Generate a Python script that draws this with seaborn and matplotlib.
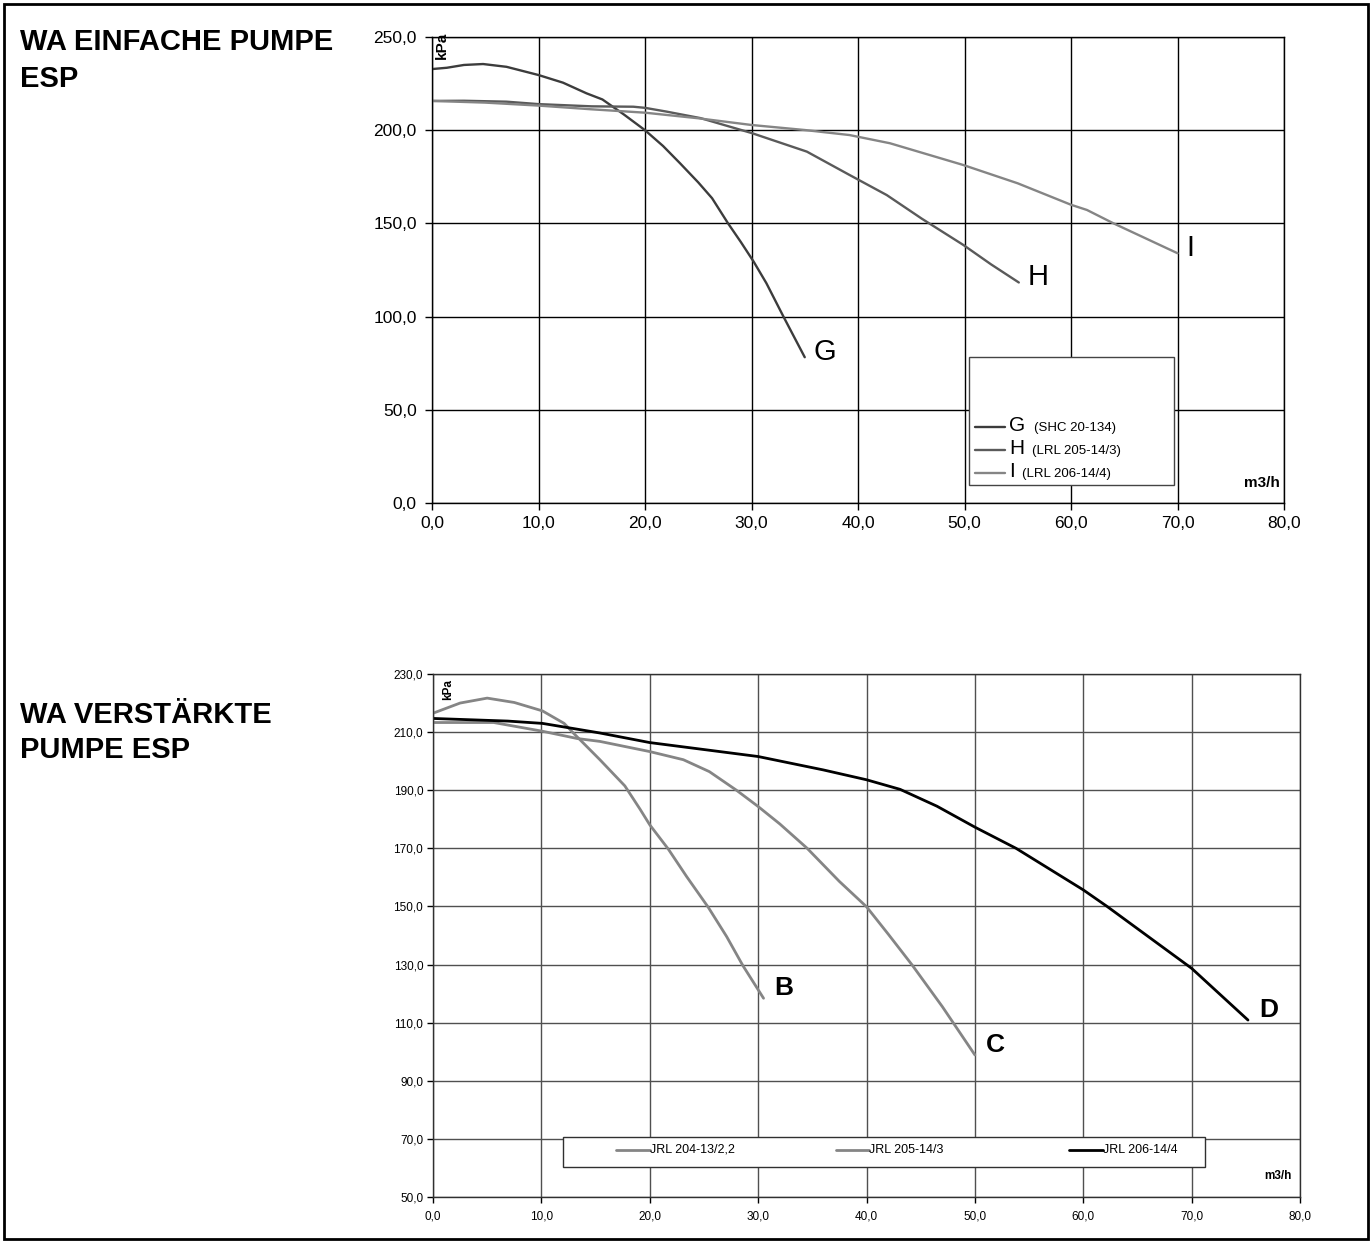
import matplotlib
matplotlib.use("Agg")
import matplotlib.pyplot as plt
from matplotlib.ticker import FuncFormatter, MultipleLocator, FixedLocator
from matplotlib.patches import Rectangle
import seaborn as sns

# ---------------- data: top chart (WA einfache Pumpe ESP) ----------------
g_x = [0, 1.4, 3, 4.8, 7, 10, 12.3, 14.5, 16, 18, 20, 21.7, 23.3, 25, 26.3, 27.8, 29, 30.2, 31.4, 33, 35]
g_y = [232.8, 233.5, 235, 235.5, 234, 229.6, 225.5, 219.8, 216.5, 208.5, 200, 191.5, 182.2, 172, 163.5, 150, 140, 129.5, 117.9, 100, 78.2]
h_x = [0, 3, 7, 10, 15, 18.9, 20, 22, 25.2, 30, 35.2, 39.2, 42.7, 46, 49.9, 52.5, 55.1]
h_y = [215.7, 215.8, 215.3, 214, 212.8, 212.6, 212, 210, 206.5, 198.5, 188.5, 176, 165.2, 152.5, 138.4, 128, 118.3]
i_x = [0, 5, 10, 15, 20, 25, 30, 35, 39.2, 43, 49.9, 55, 60, 61.5, 64, 70]
i_y = [215.7, 214.8, 213.2, 211.2, 209.4, 206.4, 202.8, 200.1, 197.4, 193, 181.3, 171.5, 160, 157.2, 150, 134]
top_names = ["G", "H", "I"]
top_models = ["(SHC 20-134)", "(LRL 205-14/3)", "(LRL 206-14/4)"]

# ---------------- data: bottom chart (WA verstaerkte Pumpe ESP) ----------------
b_x = [0, 2.5, 5, 7.5, 10.1, 12.1, 13, 15.4, 17.7, 19.1, 20, 21.7, 23.4, 25.4, 27.1, 28.6, 30.5]
b_y = [216.5, 220, 221.7, 220.2, 217.3, 213, 209.5, 200.5, 191.5, 183.5, 178.1, 169.8, 160.3, 149.7, 139.6, 129.6, 118.4]
c_x = [0, 5.6, 10.1, 13.3, 15.4, 20, 23.1, 25.5, 28, 30, 32, 34.5, 37.5, 40, 42, 44.2, 47, 50]
c_y = [213.3, 213.3, 210.3, 207.8, 206.8, 203.3, 200.5, 196.4, 190, 184.4, 178.4, 170.1, 158.6, 149.9, 140.5, 129.9, 115.5, 98.9]
d_x = [0, 6.9, 10.1, 13, 15.4, 20, 30, 36, 40, 43.1, 46.5, 50, 53.8, 60, 62.2, 70, 75.2]
d_y = [214.7, 213.8, 213, 211.2, 209.7, 206.4, 201.6, 197, 193.6, 190.3, 184.5, 177.3, 170, 155.7, 150, 128.7, 110.9]
bottom_names = ["B", "C", "D"]
bottom_models = ["JRL 204-13/2,2", "JRL 205-14/3", "JRL 206-14/4"]

sns.set_theme(style="white")
plt.rcParams["font.family"] = ["Liberation Sans", "DejaVu Sans"]
plt.rcParams["text.color"] = "black"

fig = plt.figure(figsize=(13.72, 12.43), dpi=100)

comma = FuncFormatter(lambda v, p: f"{v:.1f}".replace(".", ","))

# ================= top axes =================
ax1 = fig.add_axes([432 / 1372, 1 - 503 / 1243, 852 / 1372, 466 / 1243])
top_colors = ["#3c3c3c", "#5a5a5a", "#858585"]
for xs, ys, col in zip([g_x, h_x, i_x], [g_y, h_y, i_y], top_colors):
    sns.lineplot(x=xs, y=ys, ax=ax1, color=col, lw=1.7, estimator=None, sort=False)
ax1.set_xlim(0, 80)
ax1.set_ylim(0, 250)
ax1.xaxis.set_major_locator(MultipleLocator(10))
ax1.yaxis.set_major_locator(MultipleLocator(50))
ax1.xaxis.set_major_formatter(comma)
ax1.yaxis.set_major_formatter(comma)
ax1.grid(True, color="black", lw=1.0)
ax1.set_axisbelow(True)
for s in ax1.spines.values():
    s.set_color("black")
    s.set_linewidth(1.0)
ax1.tick_params(axis="both", direction="out", length=5, width=1, color="black",
                labelsize=12.5, labelcolor="black", pad=6, left=True, bottom=True)
ax1.tick_params(axis="x", pad=4)
ax1.set_xlabel("")
ax1.set_ylabel("")

for name, xs, ys in zip(top_names, [g_x, h_x, i_x], [g_y, h_y, i_y]):
    ax1.text(xs[-1] + 0.8, ys[-1] + 3, name, fontsize=21, ha="left", va="center", color="black")

ax1.text(0.012, 1.012, "kPa", transform=ax1.transAxes, rotation=90, fontsize=11,
         fontweight="bold", ha="center", va="top", color="black")
ax1.text(0.995, 0.042, "m3/h", transform=ax1.transAxes, fontsize=11, fontweight="bold",
         ha="right", va="center", color="black")

# legend box (manual, mixed font sizes)
ax1.add_patch(Rectangle((0.630, 0.0386), 0.241, 0.2744, transform=ax1.transAxes,
                        facecolor="white", edgecolor="#444444", lw=1.0, zorder=5))
leg_y = [0.1624, 0.1137, 0.0637]
small_x = [0.706, 0.704, 0.6925]
for name, model, col, yy, sx in zip(top_names, top_models, top_colors, leg_y, small_x):
    ax1.plot([0.637, 0.6725], [yy, yy], color=col, lw=1.7, transform=ax1.transAxes, zorder=6)
    ax1.text(0.677, yy - 0.008, name, transform=ax1.transAxes, fontsize=15,
             ha="left", va="baseline", zorder=6, color="black")
    ax1.text(sx, yy - 0.008, model, transform=ax1.transAxes, fontsize=9.5,
             ha="left", va="baseline", zorder=6, color="black")

# ================= bottom axes =================
ax2 = fig.add_axes([433 / 1372, 1 - 1197 / 1243, 867 / 1372, 523 / 1243])
bottom_colors = ["#858585", "#858585", "#000000"]
for xs, ys, col in zip([b_x, c_x, d_x], [b_y, c_y, d_y], bottom_colors):
    sns.lineplot(x=xs, y=ys, ax=ax2, color=col, lw=2.0, estimator=None, sort=False)
ax2.set_xlim(0, 80)
ax2.set_ylim(50, 230)
ax2.xaxis.set_major_locator(MultipleLocator(10))
ax2.yaxis.set_major_locator(FixedLocator(list(range(50, 231, 20))))
ax2.xaxis.set_major_formatter(comma)
ax2.yaxis.set_major_formatter(comma)
ax2.grid(True, color="#505050", lw=1.0)
ax2.set_axisbelow(True)
for s in ax2.spines.values():
    s.set_color("#303030")
    s.set_linewidth(1.0)
ax2.tick_params(axis="both", direction="out", length=4, width=1, color="black",
                labelsize=8.5, labelcolor="black", pad=6, left=True, bottom=True)
ax2.tick_params(axis="y", pad=3)
ax2.set_xlabel("")
ax2.set_ylabel("")

for name, xs, ys in zip(bottom_names, [b_x, c_x, d_x], [b_y, c_y, d_y]):
    ax2.text(xs[-1] + 1.0, ys[-1] + 3.5, name, fontsize=19, fontweight="bold",
             ha="left", va="center", color="black")

ax2.text(0.017, 0.99, "kPa", transform=ax2.transAxes, rotation=90, fontsize=8.5,
         fontweight="bold", ha="center", va="top", color="black")
ax2.text(0.99, 0.040, "m3/h", transform=ax2.transAxes, fontsize=8.5, fontweight="bold",
         ha="right", va="center", color="black")

ax2.add_patch(Rectangle((0.1497, 0.0574), 0.7407, 0.0573, transform=ax2.transAxes,
                        facecolor="white", edgecolor="#303030", lw=1.0, zorder=5))
leg2_hx = [(616.6, 650.5), (835.7, 869.6), (1069.3, 1103.0)]
for model, col, (hx0, hx1) in zip(bottom_models, bottom_colors, leg2_hx):
    x0 = (hx0 - 433.3) / 866.7
    x1 = (hx1 - 433.3) / 866.7
    ax2.plot([x0, x1], [0.0899, 0.0899], color=col, lw=2.0, transform=ax2.transAxes, zorder=6)
    ax2.text(x1, 0.0899, model, transform=ax2.transAxes, fontsize=9,
             ha="left", va="center", zorder=6, color="black")

# ================= titles and frame =================
title_kw = dict(fontsize=21, fontweight="bold", ha="left", va="baseline", color="black")
fig.text(20 / 1372, 1 - 50 / 1243, "WA EINFACHE PUMPE", **title_kw)
fig.text(20 / 1372, 1 - 87 / 1243, "ESP", **title_kw)
fig.text(20 / 1372, 1 - 723 / 1243, "WA VERSTÄRKTE", **title_kw)
fig.text(20 / 1372, 1 - 758 / 1243, "PUMPE ESP", **title_kw)

fig.patches.append(Rectangle((4 / 1372, 4 / 1243), 1 - 8 / 1372, 1 - 8 / 1243,
                             transform=fig.transFigure, fill=False, edgecolor="black",
                             lw=2.0))

fig.savefig("out.png", dpi=100, facecolor="white")
